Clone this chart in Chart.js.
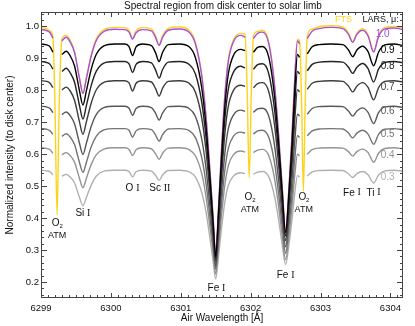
<!DOCTYPE html>
<html>
<head>
<meta charset="utf-8">
<script src="https://cdn.jsdelivr.net/npm/chart.js@4.4.0/dist/chart.umd.min.js"></script>
<style>
  html, body { margin: 0; padding: 0; background: #fff; }
</style>
</head>
<body>
<canvas id="chart" width="415" height="326"></canvas>
<script>
// wavelength grid [A], shared by all spectra (null = telluric line cut out of the LARS data)
const wavelengths = [
  6299.00, 6299.08, 6299.13, 6299.17, 6299.20, 6299.23, 6299.26, 6299.30, 6299.36, 6299.42,
  6299.48, 6299.55, 6299.60, 6299.65, 6299.72, 6299.79, 6299.90, 6300.05, 6300.20, 6300.26,
  6300.31, 6300.36, 6300.45, 6300.58, 6300.64, 6300.69, 6300.74, 6300.82, 6300.98, 6301.12,
  6301.21, 6301.30, 6301.36, 6301.42, 6301.46, 6301.50, 6301.54, 6301.58, 6301.63, 6301.68,
  6301.76, 6301.86, 6301.92, 6301.95, 6301.98, 6302.01, 6302.04, 6302.10, 6302.17, 6302.26,
  6302.34, 6302.40, 6302.45, 6302.50, 6302.55, 6302.59, 6302.63, 6302.67, 6302.70, 6302.73,
  6302.755, 6302.78, 6302.81, 6302.88, 6302.98, 6303.15, 6303.32, 6303.40, 6303.46, 6303.52,
  6303.60, 6303.68, 6303.76, 6303.83, 6303.92, 6304.05, 6304.18
];

// FTS atlas
const fts = [
  .996, .993, .986, .968, .75, .41, .75, .962, .972, .956,
  .922, .840, .790, .840, .912, .960, .990, .997, .996, .988,
  .963, .986, .996, .992, .970, .943, .971, .994, .998, .988,
  .950, .848, .722, .541, .410, .285, .430, .600, .782, .894,
  .960, .978, .975, .80, .527, .80, .970, .984, .988, .950,
  .822, .661, .500, .360, .500, .651, .833, .960, .955, .75,
  .484, .75, .968, .991, .999, 1.002, .998, .979, .953, .979,
  .993, .974, .922, .972, .997, 1.0, .995
];

// LARS, mu = 1.0 ... 0.3
const mu10 = [
  .990, .987, .980, .963, null, null, null, .955, .966, .950,
  .918, .838, .790, .838, .908, .955, .984, .991, .990, .982,
  .960, .980, .990, .986, .965, .940, .966, .988, .992, .982,
  .945, .845, .720, .540, .410, .285, .430, .600, .780, .890,
  .955, .972, .966, null, null, null, .962, .978, .982, .945,
  .820, .660, .500, .360, .500, .650, .830, .955, .945, null,
  null, null, .962, .985, .993, .997, .993, .975, .950, .975,
  .988, .970, .920, .968, .992, .995, .990
];
const mu09 = [
  .945, .942, .936, .919, null, null, null, .912, .922, .907,
  .876, .799, .754, .799, .867, .912, .939, .945, .945, .937,
  .909, .936, .945, .940, .917, .890, .919, .943, .945, .936,
  .902, .808, .690, .521, .398, .280, .417, .577, .747, .851,
  .912, .928, .924, null, null, null, .919, .934, .937, .903,
  .786, .636, .486, .355, .486, .626, .795, .912, .903, null,
  null, null, .914, .936, .943, .945, .943, .926, .905, .926,
  .938, .921, .877, .919, .942, .945, .940
];
const mu08 = [
  .890, .887, .881, .866, null, null, null, .859, .869, .854,
  .825, .753, .710, .753, .816, .859, .885, .890, .890, .883,
  .856, .881, .890, .886, .863, .838, .865, .888, .890, .881,
  .851, .763, .654, .498, .384, .275, .402, .550, .707, .803,
  .859, .875, .870, null, null, null, .866, .880, .883, .851,
  .743, .604, .466, .345, .466, .596, .752, .859, .851, null,
  null, null, .861, .881, .888, .890, .888, .872, .853, .872,
  .884, .868, .826, .866, .887, .890, .886
];
const mu07 = [
  .830, .828, .822, .808, null, null, null, .801, .810, .797,
  .769, .702, .662, .702, .761, .801, .825, .830, .830, .823,
  .798, .822, .830, .826, .805, .782, .807, .828, .830, .822,
  .794, .714, .614, .470, .365, .265, .381, .518, .662, .750,
  .802, .816, .812, null, null, null, .808, .821, .824, .795,
  .695, .568, .441, .330, .441, .560, .703, .802, .795, null,
  null, null, .803, .822, .828, .830, .828, .813, .795, .813,
  .824, .809, .770, .808, .828, .830, .826
];
const mu06 = [
  .750, .748, .743, .730, null, null, null, .724, .732, .720,
  .695, .635, .599, .635, .688, .724, .746, .750, .750, .744,
  .722, .743, .750, .746, .728, .707, .729, .749, .750, .743,
  .718, .647, .559, .431, .339, .250, .353, .474, .601, .679,
  .725, .738, .734, null, null, null, .731, .742, .744, .719,
  .631, .519, .408, .310, .408, .512, .638, .725, .719, null,
  null, null, .725, .743, .749, .750, .749, .735, .719, .735,
  .745, .731, .696, .730, .748, .750, .746
];
const mu05 = [
  .680, .678, .673, .662, null, null, null, .656, .664, .653,
  .630, .575, .543, .575, .624, .656, .676, .680, .680, .675,
  .654, .673, .680, .677, .660, .641, .661, .679, .680, .674,
  .652, .589, .511, .399, .318, .240, .331, .437, .549, .618,
  .658, .669, .666, null, null, null, .663, .673, .675, .652,
  .575, .476, .377, .290, .377, .469, .581, .658, .652, null,
  null, null, .658, .673, .679, .680, .679, .666, .651, .666,
  .675, .663, .631, .662, .678, .680, .677
];
const mu04 = [
  .620, .618, .614, .603, null, null, null, .598, .605, .595,
  .575, .525, .495, .525, .569, .598, .616, .620, .620, .615,
  .596, .614, .620, .617, .601, .584, .603, .619, .620, .614,
  .595, .539, .469, .368, .295, .225, .306, .402, .502, .564,
  .600, .610, .607, null, null, null, .605, .613, .615, .595,
  .526, .437, .348, .270, .348, .431, .531, .600, .595, null,
  null, null, .600, .614, .619, .620, .619, .608, .594, .608,
  .616, .605, .575, .603, .618, .620, .617
];
const mu03 = [
  .550, .548, .545, .535, null, null, null, .531, .537, .528,
  .510, .465, .439, .465, .504, .531, .547, .550, .550, .546,
  .529, .545, .550, .547, .534, .518, .535, .549, .550, .545,
  .528, .480, .420, .333, .270, .210, .280, .362, .449, .502,
  .533, .542, .539, null, null, null, .537, .544, .546, .529,
  .470, .395, .320, .255, .320, .391, .475, .533, .529, null,
  null, null, .532, .545, .549, .550, .549, .539, .527, .539,
  .546, .536, .510, .535, .548, .550, .547
];

const muLabels = ['1.0', '0.9', '0.8', '0.7', '0.6', '0.5', '0.4', '0.3'];
const xTicks = [6299, 6300, 6301, 6302, 6303, 6304];
const yTicks = [0.2, 0.3, 0.4, 0.5, 0.6, 0.7, 0.8, 0.9, 1.0];

const larsSeries = [mu10, mu09, mu08, mu07, mu06, mu05, mu04, mu03];
const larsColors = ['#a64fe0', '#000000', '#222222', '#3c3c3c', '#585858', '#747474', '#939393', '#b0b0b0'];
const ftsColor = '#ffd21a';
const FONT = '"Liberation Sans", Arial, sans-serif';

function toPoints(vals) {
  return wavelengths.map((w, i) => ({ x: w, y: vals[i] }));
}

// black curve on top, then purple, then the greys, yellow underneath
const drawOrder = [1, 0, 2, 3, 4, 5, 6, 7];
const datasets = drawOrder.map(k => ({
  label: 'LARS ' + muLabels[k],
  data: toPoints(larsSeries[k]),
  borderColor: larsColors[k],
  borderWidth: 1.4
}));
datasets.push({ label: 'FTS', data: toPoints(fts), borderColor: ftsColor, borderWidth: 1.4 });

// label positions for the mu values (right edge), in data units
const muLabelPos = [
  [6303.89, 0.975], [6303.96, 0.924], [6303.96, 0.874], [6303.96, 0.809],
  [6303.96, 0.735], [6303.96, 0.662], [6303.96, 0.598], [6303.96, 0.527]
];

// spectral line identifications: [element, ion, wavelength, intensity]
const lineIds = [
  ['Si', 'I', 6299.60, 0.415],
  ['O', 'I', 6300.31, 0.492],
  ['Sc', 'II', 6300.70, 0.492],
  ['Fe', 'I', 6301.51, 0.180],
  ['Fe', 'I', 6302.50, 0.222],
  ['Fe', 'I', 6303.45, 0.479],
  ['Ti', 'I', 6303.76, 0.479]
];
const o2Ids = [[6299.23, 0.384], [6301.99, 0.464], [6302.76, 0.464]];

const decor = {
  id: 'decor',
  afterDatasetsDraw(chart) {
    const { ctx, chartArea: a, scales: { x, y } } = chart;
    ctx.save();

    // frame
    ctx.strokeStyle = '#444';
    ctx.lineWidth = 1;
    ctx.strokeRect(Math.round(a.left) + 0.5, Math.round(a.top) + 0.5,
      Math.round(a.right - a.left) - 1, Math.round(a.bottom - a.top) - 1);

    // inward ticks on all four sides
    ctx.beginPath();
    for (let i = 0; i <= 51; i++) {
      const px = Math.round(x.getPixelForValue(6299 + i / 10)) + 0.5;
      if (px > a.right) break;
      const len = i % 10 === 0 ? 5 : 3;
      ctx.moveTo(px, a.bottom); ctx.lineTo(px, a.bottom - len);
      ctx.moveTo(px, a.top); ctx.lineTo(px, a.top + len);
    }
    for (let i = 8; i <= 52; i++) {
      const py = Math.round(y.getPixelForValue(i * 0.02)) + 0.5;
      if (py < a.top || py > a.bottom) continue;
      const len = i % 5 === 0 ? 6 : 3;
      ctx.moveTo(a.left, py); ctx.lineTo(a.left + len, py);
      ctx.moveTo(a.right, py); ctx.lineTo(a.right - len, py);
    }
    ctx.stroke();

    // titles
    ctx.fillStyle = '#111';
    ctx.textAlign = 'center';
    ctx.textBaseline = 'middle';
    ctx.font = '10px ' + FONT;
    ctx.fillText('Spectral region from disk center to solar limb', (a.left + a.right) / 2 + 1, 6);
    ctx.fillText('Air Wavelength [Å]', (a.left + a.right) / 2, 318);
    ctx.save();
    ctx.translate(10, (a.top + a.bottom) / 2);
    ctx.rotate(-Math.PI / 2);
    ctx.fillText('Normalized intensity (to disk center)', 0, 0);
    ctx.restore();

    // legend-ish header
    ctx.font = '9px ' + FONT;
    ctx.fillStyle = ftsColor;
    ctx.fillText('FTS', x.getPixelForValue(6303.33), y.getPixelForValue(1.021));
    ctx.fillStyle = '#111';
    ctx.fillText('LARS, μ:', x.getPixelForValue(6303.86), y.getPixelForValue(1.021));

    // mu labels
    ctx.font = '10px ' + FONT;
    muLabels.forEach((t, k) => {
      ctx.fillStyle = larsColors[k];
      ctx.fillText(t, x.getPixelForValue(muLabelPos[k][0]), y.getPixelForValue(muLabelPos[k][1]));
    });

    // line identifications
    ctx.fillStyle = '#111';
    lineIds.forEach(([el, ion, w, v]) => {
      ctx.font = '10px ' + FONT;
      const wEl = ctx.measureText(el + ' ').width;
      ctx.font = '10px "Liberation Serif", serif';
      const wIon = ctx.measureText(ion).width;
      const cx = x.getPixelForValue(w), cy = y.getPixelForValue(v);
      const x0 = cx - (wEl + wIon) / 2;
      ctx.textAlign = 'left';
      ctx.font = '10px ' + FONT;
      ctx.fillText(el + ' ', x0, cy);
      ctx.font = '10px "Liberation Serif", serif';
      ctx.fillText(ion, x0 + wEl, cy);
    });
    o2Ids.forEach(([w, v]) => {
      const cx = x.getPixelForValue(w), cy = y.getPixelForValue(v);
      ctx.textAlign = 'center';
      ctx.font = '10px ' + FONT;
      ctx.fillText('O', cx - 1.5, cy);
      ctx.font = '6px ' + FONT;
      ctx.fillText('2', cx + 4, cy + 3);
      ctx.font = '9px ' + FONT;
      ctx.fillText('ATM', cx, cy + 12);
    });

    ctx.restore();
  }
};

new Chart(document.getElementById('chart'), {
  type: 'line',
  data: { datasets },
  options: {
    responsive: false,
    animation: false,
    devicePixelRatio: 1,
    spanGaps: false,
    elements: {
      point: { radius: 0 },
      line: { cubicInterpolationMode: 'monotone', fill: false }
    },
    layout: { padding: { top: 12, right: 12, left: 0, bottom: 0 } },
    plugins: { legend: { display: false }, tooltip: { enabled: false }, title: { display: false } },
    scales: {
      x: {
        type: 'linear',
        min: 6299,
        max: 6304.18,
        afterBuildTicks: s => { s.ticks = xTicks.map(v => ({ value: v })); },
        afterFit: s => { s.height = 28; },
        grid: { display: false, drawTicks: false, tickLength: 0 },
        border: { display: false },
        ticks: { color: '#111', padding: 5, maxRotation: 0, font: { size: 9.5, family: FONT }, callback: v => String(v) }
      },
      y: {
        min: 0.15,
        max: 1.045,
        afterBuildTicks: s => { s.ticks = yTicks.map(v => ({ value: v })); },
        afterFit: s => { s.width = 41; },
        grid: { display: false, drawTicks: false, tickLength: 0 },
        border: { display: false },
        ticks: { color: '#111', padding: 2, font: { size: 9.5, family: FONT }, callback: v => v.toFixed(1) }
      }
    }
  },
  plugins: [decor]
});
</script>
</body>
</html>
